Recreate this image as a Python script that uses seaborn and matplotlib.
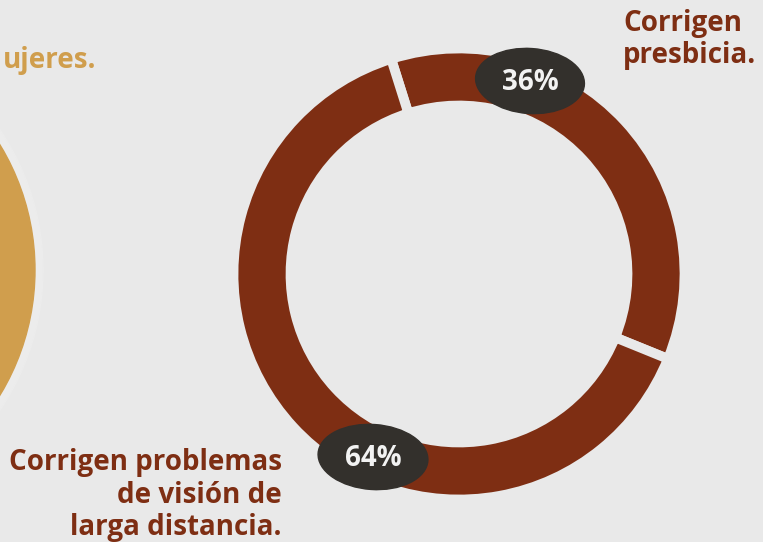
"""Donut: tipo de correccion de los lentes (36% presbicia / 64% larga distancia)."""

import matplotlib

matplotlib.use("Agg")
import matplotlib.pyplot as plt
import seaborn as sns
from matplotlib.patches import Circle, Ellipse

# datos
categorias = ["Corrigen\npresbicia.", "Corrigen problemas\nde visión de\nlarga distancia."]
porcentajes = [36, 64]
etiquetas = [f"{v}%" for v in porcentajes]
texto_izq = "ujeres."

BG = "#e9e9e9"
BROWN = "#7e2e13"
BLOB = "#33302c"
MUSTARD = "#d09e4d"
H = 542

sns.set_theme(style="white")
plt.rcParams["font.family"] = ["Open Sans", "DejaVu Sans"]

fig = plt.figure(figsize=(7.63, 5.42), dpi=100, facecolor=BG)
ax = fig.add_axes([0, 0, 1, 1])
ax.set_facecolor(BG)

# circulo amarillo de la figura vecina (cortado)
ax.add_patch(Circle((-206, H - 270), 249, color="#ececec", zorder=0))
ax.add_patch(Circle((-206, H - 270), 241, color=MUSTARD, zorder=1))

# donut
ax.pie(porcentajes, colors=[BROWN, BROWN], center=(459, H - 274), radius=225.5,
       startangle=107.5, counterclock=False,
       wedgeprops=dict(width=57, edgecolor=BG, linewidth=7))

# manchas con porcentajes
blobs = [(530, 81, 109, 65), (373, 457, 110, 65)]
for (x, y, w, h), txt in zip(blobs, etiquetas):
    ax.add_patch(Ellipse((x, H - y), w, h, angle=-4, color=BLOB, zorder=5))
    ax.text(x, H - y - 1, txt, ha="center", va="center", color="#f2f2f2",
            fontsize=20, fontweight="bold", zorder=6)

ax.text(623, H - 63, categorias[0], ha="left", va="baseline", color=BROWN,
        fontsize=20, fontweight="bold", linespacing=1.15)
ax.text(282, H - 535, categorias[1], ha="right", va="baseline", color=BROWN,
        fontsize=20, fontweight="bold", linespacing=1.15, multialignment="right")
ax.text(3, H - 68, texto_izq, ha="left", va="baseline", color=MUSTARD,
        fontsize=20, fontweight="bold")

ax.set_xlim(0, 763)
ax.set_ylim(0, H)
ax.set_aspect("equal")
ax.axis("off")

fig.savefig("out.png", dpi=100, facecolor=BG)
plt.close(fig)
